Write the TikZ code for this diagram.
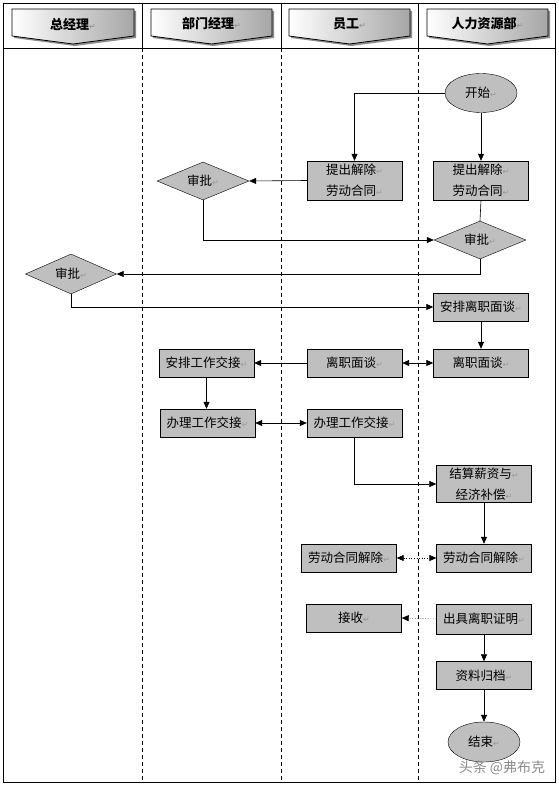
\documentclass[tikz,border=0pt]{standalone}
\usepackage{fontspec}
\setmainfont{Noto Sans CJK SC}
\newfontfamily\symfont{DejaVu Sans}
\usetikzlibrary{shapes.geometric,arrows.meta,positioning,calc}
\newcommand{\ret}{\textcolor{black!40}{\symfont\fontsize{8}{9}\selectfont ↵}}
\newcommand{\banner}[3]{%
  % #1 left x, #2 right x, #3 text
  \fill[black!45] ($(#1,9)+(2,2)$) -- ($(#2,9)+(2,2)$) -- ($(#2,36)+(2,2)$) -- ($({(#1+#2)/2},44)+(2,2)$) -- ($(#1,36)+(2,2)$) -- cycle;
  \shade[left color=white, right color=black!35, draw=black, line width=0.8pt]
    (#1,9) -- (#2,9) -- (#2,36) -- ({(#1+#2)/2},44) -- (#1,36) -- cycle;
  \node[font=\bfseries\fontsize{13}{15}\selectfont] at ({(#1+#2)/2},24) {#3\ret};}

\begin{document}
\begin{tikzpicture}[x=1pt, y=-1pt,
    box/.style={draw, fill=black!25, minimum width=95pt, minimum height=28pt, inner sep=1pt,
      font=\fontsize{12.5}{21}\selectfont, align=center},
    check/.style={draw, fill=black!25, diamond, aspect=2.4, minimum width=92pt, minimum height=38pt,
      inner sep=0pt, font=\fontsize{12.5}{14}\selectfont},
    term/.style={draw, fill=black!25, ellipse, minimum width=72pt, minimum height=39pt,
      inner sep=0pt, font=\fontsize{12.5}{14}\selectfont},
    flow/.style={-{Triangle[length=7pt,width=6pt]}, line width=0.6pt},
    both/.style={{Triangle[length=7pt,width=6pt]}-{Triangle[length=7pt,width=6pt]}, line width=0.6pt},
    lane/.style={dashed, dash pattern=on 4pt off 3pt, line width=0.6pt}]
  \useasboundingbox (0,0) rectangle (558,786);
  \fill[white] (0,0) rectangle (558,786);

  % frame and lanes
  \draw[line width=0.8pt] (3,3) rectangle (555,782);
  \draw[line width=0.8pt] (3,48) -- (555,48);
  \foreach \lx in {142,281,418} {
    \draw[line width=0.8pt] (\lx,3) -- (\lx,48);
    \draw[lane] (\lx,48) -- (\lx,782);
  }

  % lane headers
  \banner{12}{134}{总经理}
  \banner{151}{272}{部门经理}
  \banner{289}{410}{员工}
  \banner{427}{548}{人力资源部}

  % nodes
  \node[term] (start) at (481,93) {开始\ret};
  \node[box, minimum height=39pt] (empApply) at (354.5,180.5) {提出解除\ret\\劳动合同\ret};
  \node[box, minimum height=39pt] (hrApply) at (481,180.5) {提出解除\ret\\劳动合同\ret};
  \node[check] (deptCheck) at (203,181) {审批\ret};
  \node[check] (hrCheck) at (480,240) {审批\ret};
  \node[check, minimum width=91pt, minimum height=40pt] (gmCheck) at (71,274) {审批\ret};
  \node[box] (hrArrange) at (481,307) {安排离职面谈\ret};
  \node[box] (hrTalk) at (481,363) {离职面谈\ret};
  \node[box] (empTalk) at (354.5,363) {离职面谈\ret};
  \node[box] (deptArrange) at (206.5,363) {安排工作交接\ret};
  \node[box] (deptHandover) at (207.5,423) {办理工作交接\ret};
  \node[box] (empHandover) at (354.5,423) {办理工作交接\ret};
  \node[box, minimum height=37pt] (hrSettle) at (484,484) {结算薪资与\ret\\经济补偿\ret};
  \node[box] (hrRelease) at (484,558) {劳动合同解除\ret};
  \node[box] (empRelease) at (349,558) {劳动合同解除\ret};
  \node[box, minimum height=30pt] (hrCert) at (484,619) {出具离职证明\ret};
  \node[box] (empRecv) at (354,618) {接收\ret};
  \node[box] (hrFile) at (484,675.5) {资料归档\ret};
  \node[term, minimum height=40pt] (stop) at (484,742) {结束\ret};

  % watermark
  \node[text=black!45, font=\fontsize{14}{16}\selectfont] (mark) at (502,768) {头条 @弗布克};

  % connectors
  \draw[flow] (start.west) -| (empApply.north);
  \draw[flow] (start.south) -- (hrApply.north);
  \draw[flow] (empApply.west) -- (deptCheck.east);
  \draw[line width=0.6pt] (hrApply.south) -- (hrCheck.north);
  \draw[flow] (deptCheck.south) |- (hrCheck.west);
  \draw[flow] (hrCheck.south) |- (gmCheck.east);
  \draw[flow] (gmCheck.south) |- (hrArrange.west);
  \draw[flow] (hrArrange.south) -- (hrTalk.north);
  \draw[both] (empTalk.east) -- (hrTalk.west);
  \draw[flow] (empTalk.west) -- (deptArrange.east);
  \draw[flow] (deptArrange.south) -- (deptArrange.south |- deptHandover.north);
  \draw[both] (deptHandover.east) -- (empHandover.west);
  \draw[flow] (empHandover.south) |- (hrSettle.west);
  \draw[flow] (hrSettle.south) -- (hrRelease.north);
  \draw[both, dotted, line width=0.5pt] (empRelease.east) -- (hrRelease.west);
  \draw[flow, dotted, line width=0.5pt] (hrCert.west) -- (empRecv.east);
  \draw[flow] (hrCert.south) -- (hrFile.north);
  \draw[flow] (hrFile.south) -- (stop.north);
\end{tikzpicture}
\end{document}
